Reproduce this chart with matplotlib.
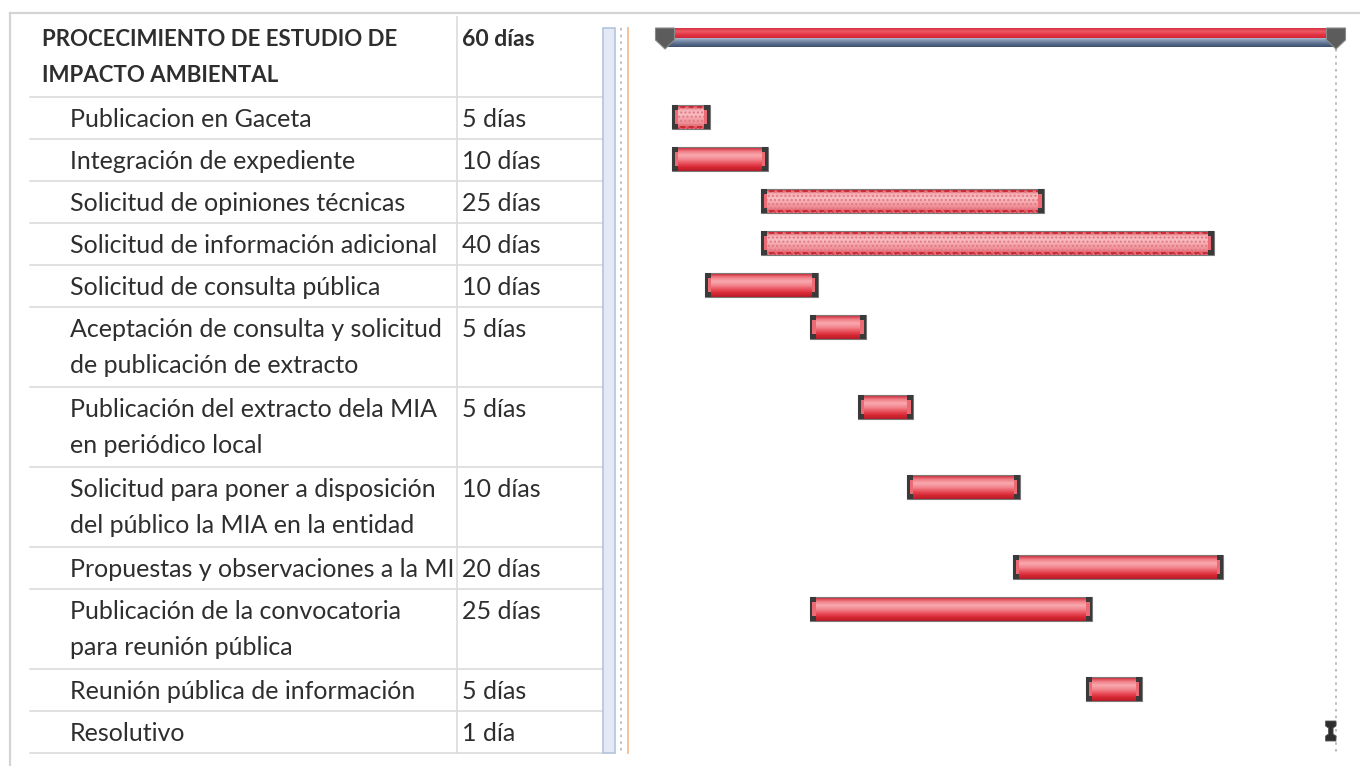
import matplotlib
matplotlib.use("Agg")
import matplotlib.pyplot as plt
import numpy as np
from matplotlib.patches import Rectangle, Polygon
from matplotlib.colors import to_rgb

# ---------------- data ----------------
task_names = [
    "PROCECIMIENTO DE ESTUDIO DE\nIMPACTO AMBIENTAL",
    "Publicacion en Gaceta",
    "Integración de expediente",
    "Solicitud de opiniones técnicas",
    "Solicitud de información adicional",
    "Solicitud de consulta pública",
    "Aceptación de consulta y solicitud\nde publicación de extracto",
    "Publicación del extracto dela MIA\nen periódico local",
    "Solicitud para poner a disposición\ndel público la MIA en la entidad",
    "Propuestas y observaciones a la MI",
    "Publicación de la convocatoria\npara reunión pública",
    "Reunión pública de información",
    "Resolutivo",
]
durations = ["60 días", "5 días", "10 días", "25 días", "40 días", "10 días", "5 días",
             "5 días", "10 días", "20 días", "25 días", "5 días", "1 día"]
# bar start / finish in calendar days
start = [0.0, 0.9, 0.9, 12.0, 12.0, 5.0, 18.1, 24.2, 30.3, 43.6, 18.1, 52.7, 82.7]
finish = [84.0, 5.6, 12.9, 47.5, 68.7, 19.1, 25.2, 31.1, 44.4, 69.8, 53.5, 59.7, 84.0]
patterned = [False, True, False, True, True, False, False, False, False, False, False, False, False]
is_summary = [True] + [False] * 12
is_milestone = [False] * 12 + [True]

# ---------------- layout ----------------
W, H = 1360, 766
fig = plt.figure(figsize=(W / 100, H / 100), dpi=100)
fig.patch.set_facecolor("white")

tab = fig.add_axes([0, 0, 1, 1])
tab.set_xlim(0, W)
tab.set_ylim(H, 0)
tab.axis("off")

LINE_H, PAD, TOP = 38, 4, 17
nlines = [n.count("\n") + 1 for n in task_names]
heights = [LINE_H * k + PAD for k in nlines]
tops = TOP + np.concatenate([[0], np.cumsum(heights)[:-1]])
bottoms = tops + np.array(heights)
first_line = tops + 21

text_col = "#2e2e2e"
grid_col = "#dcdcdc"
FONT = "Lato"
FS = 18
FS_B = 16

# outer frame of the screenshot
tab.plot([10, W], [13, 13], color="#d4d4d4", lw=1.6, zorder=1)
tab.plot([10, 10], [13, H], color="#d4d4d4", lw=1.6, zorder=1)

# table grid
for b in bottoms:
    tab.plot([30, 603], [b, b], color=grid_col, lw=1.2, zorder=1)
tab.plot([457, 457], [TOP, bottoms[-1]], color=grid_col, lw=1.2, zorder=1)

# splitter
tab.add_patch(Rectangle((603, 28), 12, bottoms[-1] - 28, facecolor="#e3eaf5",
                        edgecolor="#b5c4da", lw=1.2, zorder=1))
tab.plot([621, 621], [28, bottoms[-1]], color="#b8b8b8", lw=1.2, ls=(0, (1.5, 2.5)), zorder=1)
tab.plot([628, 628], [28, bottoms[-1]], color="#f5c39a", lw=1.4, zorder=1)

# table text
for i, name in enumerate(task_names):
    bold = is_summary[i]
    fs = FS_B if bold else FS
    x0 = 42 if bold else 70
    for k, line in enumerate(name.split("\n")):
        tab.text(x0, first_line[i] + 1.5 + k * 36, line, fontsize=fs, family=FONT,
                 fontweight="bold" if bold else "normal", color=text_col,
                 va="center", ha="left")
    tab.text(462, first_line[i] + 1.5, durations[i], fontsize=fs + (0.5 if bold else 0),
             family=FONT, fontweight="bold" if bold else "normal", color=text_col,
             va="center", ha="left")

# ---------------- gantt ----------------
g_left = 630
gx = fig.add_axes([g_left / W, 0, (W - g_left) / W, 1])
gx.axis("off")
px_day = (1336 - 665) / 84.0
x_lo = -(665 - g_left) / px_day
x_hi = 84 + (W - 1336) / px_day


def grad_img(cols, n=40):
    pts = np.linspace(0, 1, len(cols))
    arr = np.array([to_rgb(c) for c in cols])
    t = np.linspace(0, 1, n)
    img = np.stack([np.interp(t, pts, arr[:, j]) for j in range(3)], axis=1)
    return img[:, None, :]


normal_grad = grad_img(["#c7202c", "#f07a84", "#f8a9ae", "#f38a92", "#ea5561", "#d92a37", "#b81a26"])
pattern_grad = grad_img(["#d0303c", "#f7b3b8", "#f8bcc0", "#f4a1a7", "#ee8890", "#d8404c"])
red_top = grad_img(["#d8303e", "#ec5a66", "#e23444", "#d42636"])
blue_bot = grad_img(["#a8b8cc", "#7a8eaa", "#566a88", "#3e5070"])

cap_col = "#3a3a3a"
BAR_H = 24
cw = 6 / px_day

for i in range(len(task_names)):
    s, f = start[i], finish[i]
    yc = first_line[i] - 1
    if is_summary[i]:
        yt, ym, yb = 29, 38.5, 47
        gx.imshow(red_top, extent=(s, f, ym, yt), aspect="auto", interpolation="bilinear", zorder=2)
        gx.imshow(blue_bot, extent=(s, f, yb, ym), aspect="auto", interpolation="bilinear", zorder=2)
        capw = 19 / px_day
        for cx in (s, f):
            poly = Polygon([(cx - capw / 2, 28), (cx + capw / 2, 28), (cx + capw / 2, 40),
                            (cx, 49), (cx - capw / 2, 40)], closed=True,
                           facecolor="#5c5c5c", edgecolor="#8a8a8a", lw=0.8, zorder=3)
            gx.add_patch(poly)
        # dotted line from the project end
        gx.plot([f, f], [49, bottoms[-1]], color="#b0b0b0", lw=1.2, ls=(0, (1.5, 2.5)), zorder=1)
        continue
    yt, yb = yc - BAR_H / 2, yc + BAR_H / 2
    if is_milestone[i]:
        mw = f - s
        gx.add_patch(Polygon([(s, yt + 2), (f, yt + 2), (f, yt + 7), (s + mw * 0.72, yt + 9),
                              (s + mw * 0.72, yb - 9), (f, yb - 7), (f, yb - 2), (s, yb - 2),
                              (s, yb - 7), (s + mw * 0.28, yb - 9), (s + mw * 0.28, yt + 9),
                              (s, yt + 7)], closed=True, facecolor="#2e2e2e",
                             edgecolor="#555555", lw=0.6, zorder=3))
        continue
    img = pattern_grad if patterned[i] else normal_grad
    gx.imshow(img, extent=(s, f, yb, yt), aspect="auto", interpolation="bilinear", zorder=2)
    gx.add_patch(Rectangle((s, yt), f - s, BAR_H, fill=False, edgecolor="#7a7a7a", lw=0.8, zorder=3))
    if patterned[i]:
        gx.add_patch(Rectangle((s, yt), f - s, BAR_H, fill=False, hatch="....",
                               edgecolor="#e07a84", lw=0, zorder=3))
        gx.plot([s, f], [yt + 2, yt + 2], color="#c8202c", lw=1.2, ls=(0, (3, 2)), zorder=3)
        gx.plot([s, f], [yb - 2, yb - 2], color="#c8202c", lw=1.2, ls=(0, (3, 2)), zorder=3)
    # bracket-shaped end caps
    for cx, inner in ((s, 1), (f - cw, -1)):
        gx.add_patch(Rectangle((cx, yt), cw, BAR_H, facecolor=cap_col, lw=0, zorder=4))
        ix = cx + cw * 0.45 if inner == 1 else cx
        gx.add_patch(Rectangle((ix, yt + 5), cw * 0.55, BAR_H - 10,
                               facecolor="#ec6a74", lw=0, zorder=5))

gx.set_xlim(x_lo, x_hi)
gx.set_ylim(H, 0)

fig.savefig("out.png", dpi=100, facecolor="white")
